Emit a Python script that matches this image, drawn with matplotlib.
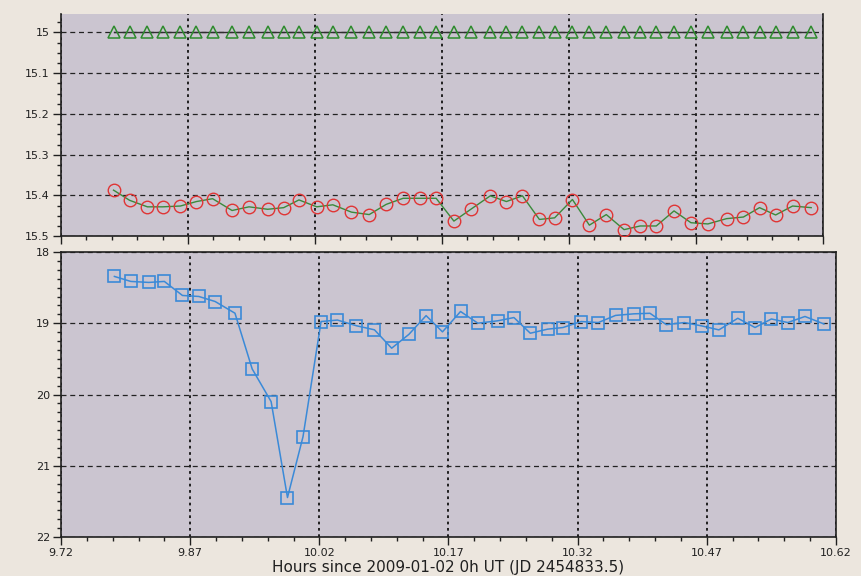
import matplotlib
matplotlib.use("Agg")
import matplotlib.pyplot as plt
from matplotlib.ticker import MultipleLocator
import numpy as np

# observation times (hours since 2009-01-02 0h UT)
hours = [9.782, 9.801, 9.822, 9.840, 9.861, 9.880, 9.899, 9.922, 9.942, 9.964,
         9.983, 10.001, 10.022, 10.041, 10.063, 10.084, 10.104, 10.124, 10.144, 10.163,
         10.184, 10.204, 10.227, 10.246, 10.265, 10.285, 10.303, 10.324, 10.344, 10.364,
         10.385, 10.404, 10.423, 10.444, 10.464, 10.484, 10.506, 10.526, 10.545, 10.564,
         10.584, 10.606]

# comparison star (constant reference)
comp_mag = [15.0] * len(hours)

# check star
check_mag = [15.387, 15.412, 15.428, 15.428, 15.426, 15.415, 15.408, 15.437, 15.428, 15.434,
             15.430, 15.411, 15.428, 15.423, 15.441, 15.447, 15.422, 15.407, 15.407, 15.407,
             15.463, 15.434, 15.401, 15.415, 15.401, 15.459, 15.455, 15.410, 15.473, 15.447,
             15.484, 15.475, 15.475, 15.438, 15.467, 15.470, 15.457, 15.453, 15.430, 15.448,
             15.426, 15.430]

# variable
var_mag = [18.343, 18.413, 18.427, 18.413, 18.610, 18.624, 18.695, 18.859, 19.641, 20.100,
           21.446, 20.594, 18.976, 18.955, 19.035, 19.092, 19.350, 19.156, 18.893, 19.121,
           18.835, 18.999, 18.966, 18.920, 19.140, 19.083, 19.060, 18.976, 18.990, 18.890,
           18.868, 18.860, 19.020, 18.990, 19.037, 19.093, 18.930, 19.060, 18.940, 18.990,
           18.905, 19.010]

bg = '#ece6de'
face = '#cbc5d0'

fig = plt.figure(figsize=(8.62, 5.76), dpi=100, facecolor=bg)
ax1 = fig.add_axes([0.0708, 0.590, 0.884, 0.3854], facecolor=face)
ax2 = fig.add_axes([0.0708, 0.0677, 0.899, 0.4948], facecolor=face)

xticks = [9.72, 9.87, 10.02, 10.17, 10.32, 10.47, 10.62]

# top panel
ax1.plot(hours, comp_mag, color='#303030', lw=1, marker='^', ms=8,
         mfc='none', mec='#2e8b2e', mew=1.1, zorder=3)
ax1.plot(hours, check_mag, color='#3a8a3a', lw=1, marker='o', ms=9,
         mfc='none', mec='#e03535', mew=1.0, zorder=3)
ax1.set_xlim(9.72, 10.62)
ax1.set_ylim(15.5, 14.955)
ax1.set_yticks([15.0, 15.1, 15.2, 15.3, 15.4, 15.5])
ax1.set_yticklabels(['15', '15.1', '15.2', '15.3', '15.4', '15.5'])
ax1.yaxis.set_minor_locator(MultipleLocator(0.025))
ax1.set_xticks(xticks)
ax1.set_xticklabels([])
ax1.xaxis.set_minor_locator(MultipleLocator(0.03))
ax1.spines['top'].set_visible(False)

# bottom panel
ax2.plot(hours, var_mag, color='#3a8ad8', lw=1.1, marker='s', ms=9,
         mfc='none', mec='#3a8ad8', mew=1.2, zorder=3)
ax2.set_xlim(9.72, 10.62)
ax2.set_ylim(22, 18)
ax2.set_yticks([18, 19, 20, 21, 22])
ax2.yaxis.set_minor_locator(MultipleLocator(0.125))
ax2.set_xticks(xticks)
ax2.set_xticklabels(['%.2f' % t for t in xticks])
ax2.xaxis.set_minor_locator(MultipleLocator(0.03))
ax2.set_xlabel('Hours since 2009-01-02 0h UT (JD 2454833.5)', fontsize=11,
               color='#202020', labelpad=1)

for ax in (ax1, ax2):
    ax.grid(axis='y', which='major', color='#222222', ls=(0, (4, 3)), lw=0.9)
    ax.grid(axis='x', which='major', color='#111111', ls=(0, (1.5, 2)), lw=1.3)
    ax.tick_params(which='major', direction='out', length=6, width=1,
                   labelsize=8, colors='#202020', pad=2)
    ax.tick_params(which='minor', direction='out', length=3, width=1, colors='#202020')
    ax.tick_params(axis='x', which='both', top=False)
    ax.tick_params(axis='y', which='both', right=False)
    for s in ax.spines.values():
        s.set_color('#202020')
        s.set_linewidth(1.2)
    ax.set_axisbelow(True)

fig.savefig('out.png', dpi=100, facecolor=bg)
